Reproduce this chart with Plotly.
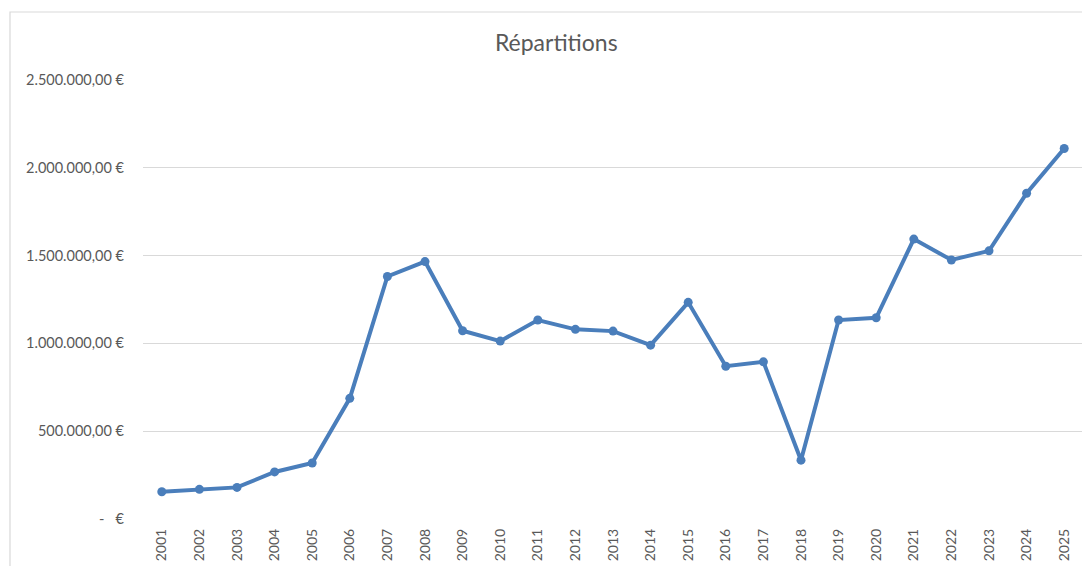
import plotly.graph_objects as go

# Data
annees = [str(a) for a in range(2001, 2026)]
montants = [155000, 169000, 180000, 268000, 319000, 687000, 1381000, 1466000,
            1072000, 1013000, 1133000, 1080000, 1070000, 990000, 1234000,
            870000, 895000, 335000, 1133000, 1146000, 1594000, 1475000,
            1527000, 1855000, 2110000]

y_ticks = [0, 500000, 1000000, 1500000, 2000000, 2500000]
y_labels = ["-   €", "500.000,00 €", "1.000.000,00 €", "1.500.000,00 €",
            "2.000.000,00 €", "2.500.000,00 €"]

fig = go.Figure(go.Scatter(
    x=annees,
    y=montants,
    mode="lines+markers",
    line=dict(color="#4a7ebb", width=4),
    marker=dict(color="#4a7ebb", size=9),
))

# the page adds an 8px body margin, so margins are shifted accordingly
fig.update_layout(
    width=1090,
    height=566,
    margin=dict(l=135, r=15, t=72, b=55),
    paper_bgcolor="white",
    plot_bgcolor="white",
    showlegend=False,
    font=dict(family="Lato", color="#595959"),
    title=dict(text="Répartitions", x=0.503, xanchor="center", y=0.938,
               yanchor="middle", font=dict(size=23, color="#595959")),
    shapes=[dict(type="rect", xref="paper", yref="paper",
                 x0=-0.1415, y0=-0.3, x1=1.2, y1=1.1549,
                 line=dict(color="#d9d9d9", width=1.2), layer="below")],
)

fig.update_xaxes(
    type="category",
    range=[-0.5, len(annees) - 0.5],
    tickangle=-90,
    tickfont=dict(size=14, color="#595959"),
    showgrid=False,
    showline=False,
    ticks="",
    ticklabelstandoff=6,
)

fig.update_yaxes(
    range=[0, 2500000],
    tickvals=y_ticks,
    ticktext=y_labels,
    tickfont=dict(size=14.5, color="#595959"),
    gridcolor="#d9d9d9",
    gridwidth=1,
    zeroline=False,
    showline=False,
    ticks="",
    ticklabelstandoff=18,
)

fig.write_html("out.html")
